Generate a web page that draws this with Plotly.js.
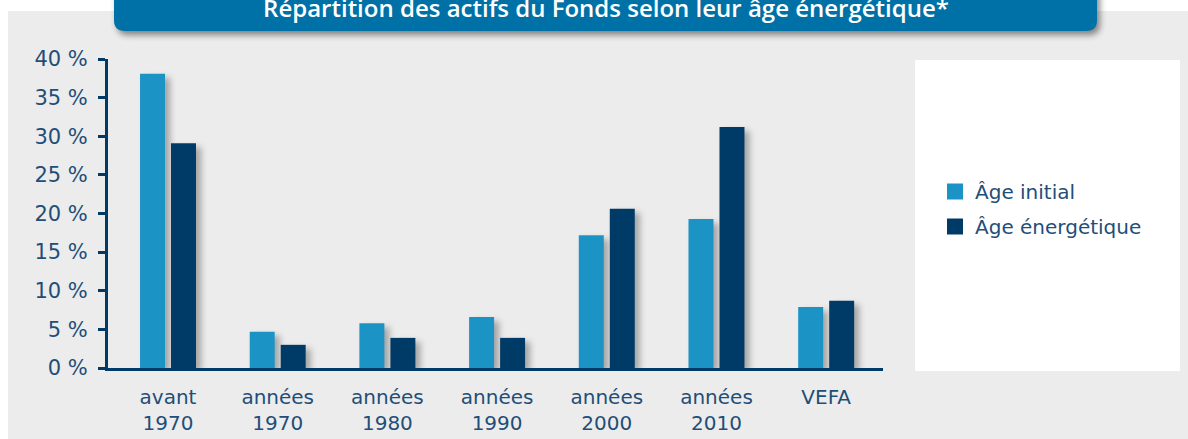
<!DOCTYPE html>
<html>
<head>
<meta charset="utf-8">
<script src="https://cdn.plot.ly/plotly-3.0.1.min.js"></script>
<style>
  html, body { margin: 0; padding: 0; background: #ffffff; }
  #chart { width: 1188px; height: 439px; }
  .barlayer .point path { filter: drop-shadow(5px 4px 3px rgba(0,0,0,0.30)); }
  .layer-above .shapelayer path { filter: drop-shadow(3px 4px 3px rgba(0,0,0,0.45)); }
</style>
</head>
<body>
<div id="chart"></div>
<script>
// ---- data ----
const categories = ["avant<br>1970", "années<br>1970", "années<br>1980", "années<br>1990", "années<br>2000", "années<br>2010", "VEFA"];
const seriesNames = ["Âge initial", "Âge énergétique"];
const ageInitial = [38.1, 4.7, 5.8, 6.6, 17.2, 19.3, 7.9];
const ageEnergetique = [29.1, 3.0, 3.9, 3.9, 20.6, 31.2, 8.7];
const yTickVals = [0, 5, 10, 15, 20, 25, 30, 35, 40];
const yTickText = ["0 %", "5 %", "10 %", "15 %", "20 %", "25 %", "30 %", "35 %", "40 %"];
const titleText = "Répartition des actifs du Fonds selon leur âge énergétique*";

// ---- styling ----
const W = 1188, H = 439;
const M = { l: 108, r: 305, t: 59, b: 71 };
const pw = W - M.l - M.r, ph = H - M.t - M.b;
const px = x => (x - M.l) / pw;
const py = y => (H - M.b - y) / ph;
const cLight = '#1b94c5', cDark = '#003a66', cText = '#1f4e79';
const FONT = '"DejaVu Sans", sans-serif';
const TFONT = '"Open Sans", sans-serif';

function roundedBottomRect(x0, y0, x1, y1, r) {
  return 'M' + px(x0) + ',' + py(y0) +
    ' L' + px(x1) + ',' + py(y0) +
    ' L' + px(x1) + ',' + py(y1 - r) +
    ' Q' + px(x1) + ',' + py(y1) + ' ' + px(x1 - r) + ',' + py(y1) +
    ' L' + px(x0 + r) + ',' + py(y1) +
    ' Q' + px(x0) + ',' + py(y1) + ' ' + px(x0) + ',' + py(y1 - r) + ' Z';
}

const traces = [
  { type: 'bar', x: categories, y: ageInitial, name: seriesNames[0],
    marker: { color: cLight }, showlegend: false, hoverinfo: 'y' },
  { type: 'bar', x: categories, y: ageEnergetique, name: seriesNames[1],
    marker: { color: cDark }, showlegend: false, hoverinfo: 'y' },
  { type: 'scatter', mode: 'markers', x: [null], y: [null], name: seriesNames[0],
    legendgroup: 'a',
    marker: { symbol: 'square', size: 16, color: cLight }, hoverinfo: 'skip' },
  { type: 'scatter', mode: 'markers', x: [null], y: [null], name: seriesNames[1],
    legendgroup: 'b',
    marker: { symbol: 'square', size: 16, color: cDark }, hoverinfo: 'skip' }
];

const layout = {
  width: W, height: H,
  margin: M,
  paper_bgcolor: '#ffffff',
  plot_bgcolor: 'rgba(0,0,0,0)',
  font: { family: FONT, size: 20, color: cText },
  barmode: 'group',
  bargap: 0.435,
  bargroupgap: 0.194,
  title: {
    text: titleText,
    font: { family: TFONT, size: 24, weight: 600, color: '#ffffff' },
    xref: 'container', x: 606 / W, xanchor: 'center',
    yref: 'container', y: 1 - 9 / H, yanchor: 'middle'
  },
  xaxis: {
    type: 'category',
    range: [-0.547, 6.518],
    showgrid: false, zeroline: false,
    showline: true, linecolor: cDark, linewidth: 3,
    ticks: '', ticklabelstandoff: 9,
    tickfont: { family: FONT, size: 20, color: cText },
    fixedrange: true
  },
  yaxis: {
    range: [0, 40],
    tickvals: yTickVals,
    ticktext: yTickText,
    showgrid: false, zeroline: false,
    showline: true, linecolor: cDark, linewidth: 3,
    ticks: 'outside', ticklen: 7, tickwidth: 3, tickcolor: cDark,
    ticklabelstandoff: 6,
    tickfont: { family: FONT, size: 21, color: cText },
    fixedrange: true
  },
  legend: {
    x: px(935), xanchor: 'left',
    y: py(209), yanchor: 'middle',
    bgcolor: 'rgba(0,0,0,0)',
    font: { family: FONT, size: 20, color: cText },
    itemwidth: 30,
    tracegroupgap: 6
  },
  shapes: [
    { type: 'rect', layer: 'below', xref: 'paper', yref: 'paper',
      x0: px(8), x1: px(1188), y0: py(11), y1: py(439),
      fillcolor: '#ececec', line: { width: 0 } },
    { type: 'rect', layer: 'below', xref: 'paper', yref: 'paper',
      x0: px(915), x1: px(1180), y0: py(60), y1: py(371),
      fillcolor: '#ffffff', line: { width: 0 } },
    { type: 'path', layer: 'above', xref: 'paper', yref: 'paper',
      path: roundedBottomRect(114, -20, 1097, 31, 11),
      fillcolor: '#0071a6', line: { width: 0 } }
  ]
};

Plotly.newPlot('chart', traces, layout, { displayModeBar: false, staticPlot: true });
</script>
</body>
</html>
